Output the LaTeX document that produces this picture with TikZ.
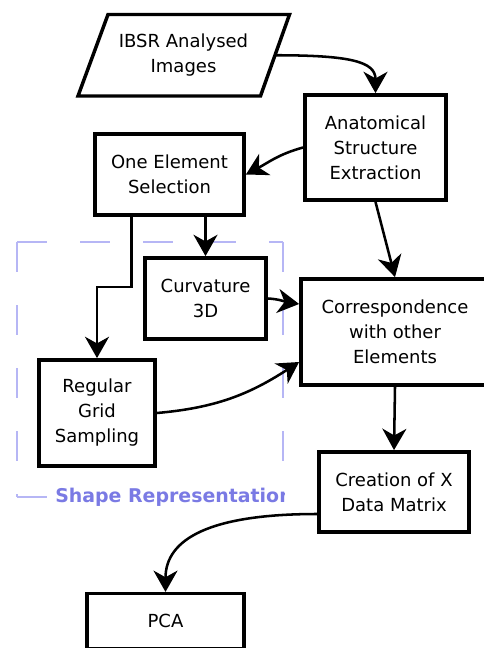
\documentclass[tikz,border=0pt]{standalone}
\usepackage{fontspec}
\setmainfont{DejaVu Sans}
\usetikzlibrary{arrows.meta,calc}
\definecolor{framelav}{RGB}{182,182,245}
\definecolor{labelblue}{RGB}{122,122,228}
\tikzset{
  stagebox/.style={draw=black, line width=2.6pt, fill=white, align=center,
    font=\fontsize{13.5}{18.75}\selectfont, inner sep=0pt},
  flow/.style={line width=1.9pt, -{Stealth[length=16pt,width=18pt,inset=5pt]}},
  groupframe/.style={draw=framelav, line width=1.9pt, dash pattern=on 22.5pt off 24.75pt},
  grouplabel/.style={anchor=west, fill=white, inner xsep=2.25pt, inner ysep=1pt,
    text=labelblue, font=\fontsize{14.2}{16}\selectfont\bfseries},
}
\begin{document}
\begin{tikzpicture}[x=0.75pt,y=0.75pt]
\useasboundingbox (0,0) rectangle (483,-648);

% dashed frame of the shape representation group
\draw[groupframe] (17,-242) -- (283,-242);
\draw[groupframe] (17,-242) -- (17,-497);
\draw[groupframe] (283,-242) -- (283,-497);
\draw[groupframe] (17,-497) -- (283,-497);
\begin{scope}
  \clip (0,-470) rectangle (284,-525);
  \node[grouplabel] (grouptitle) at (52,-497) {Shape Representation};
\end{scope}

% input data (parallelogram)
\coordinate (ibsr-bl) at (78,-96);
\coordinate (ibsr-tl) at (108,-14.5);
\coordinate (ibsr-tr) at (289.5,-14.5);
\coordinate (ibsr-br) at (260.5,-96);
\draw[line width=2.6pt, line join=miter] (ibsr-bl) -- (ibsr-tl) -- (ibsr-tr) -- (ibsr-br) -- cycle;
\node[align=center, font=\fontsize{13.5}{18.75}\selectfont, inner sep=0pt] (ibsr) at (183.5,-55) {IBSR Analysed\\Images};
\coordinate (ibsr-e) at ($(ibsr-br)!0.5!(ibsr-tr)$);

% process steps
\node[stagebox, minimum width=106pt, minimum height=79pt] (anat) at (375.5,-147.5) {Anatomical\\Structure\\Extraction};
\node[stagebox, minimum width=112pt, minimum height=61pt] (one) at (169.5,-174.5) {One Element\\Selection};
\node[stagebox, minimum width=91pt, minimum height=61pt] (curv) at (205.5,-298.5) {Curvature\\3D};
\node[stagebox, minimum width=87.25pt, minimum height=79.75pt] (grid) at (97,-413) {Regular\\Grid\\Sampling};
\node[stagebox, minimum width=141.25pt, minimum height=79.75pt] (corr) at (395,-332) {Correspondence\\with other\\Elements};
\node[stagebox, minimum width=112.75pt, minimum height=60.25pt] (creat) at (394,-492) {Creation of X\\Data Matrix};
\node[stagebox, minimum width=118pt, minimum height=41pt] (pca) at (165.5,-621) {PCA};

% connectors
\draw[flow] (ibsr-e) to[out=0, in=90, out looseness=1.8, in looseness=0.75] (anat.north);
\draw[flow] (anat.west) to[out=195, in=28] (one.east);
\draw[flow] (anat.south) -- (corr.north);
\draw[flow] (one.south -| curv.north) -- (curv.north);
\draw[flow] ([xshift=-28.5pt]one.south) -- ++(0,-70) -| (grid.north);
\draw[flow] (curv.east) to[out=-3, in=172] ([yshift=21pt]corr.west);
\draw[flow] (grid.east) to[out=5, in=213] ([yshift=-22.5pt]corr.west);
\draw[flow] (corr.south) -- (creat.north);
\draw[flow] ([yshift=-16.5pt]creat.west) to[out=180, in=90, out looseness=1.6, in looseness=0.8] (pca.north);
\end{tikzpicture}
\end{document}
